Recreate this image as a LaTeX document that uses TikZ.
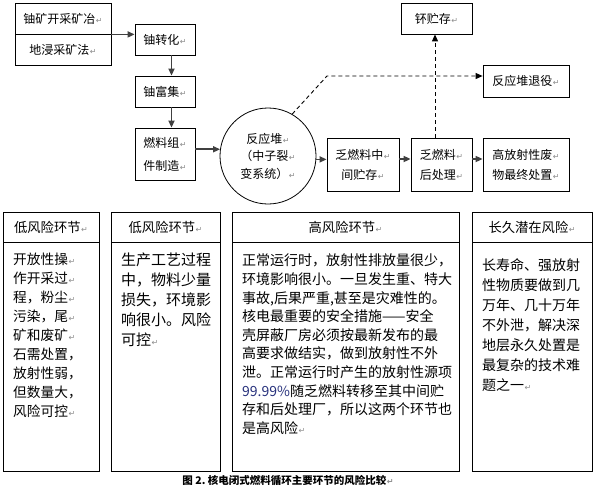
\documentclass[tikz,border=0pt]{standalone}
\usepackage{fontspec}
\setmainfont{Noto Sans CJK SC}
\newfontfamily\markfont{DejaVu Sans}
\usepackage{tikz}
\usetikzlibrary{positioning,arrows.meta,calc}
\definecolor{cLine}{RGB}{64,64,64}
\definecolor{cMark}{RGB}{140,140,140}
\definecolor{cNum}{RGB}{40,50,125}
\newcommand{\retmk}{{\kern0.5pt\markfont\fontsize{8}{8}\selectfont\textcolor{cMark}{↵}}}

\begin{document}
\begin{tikzpicture}[x=1pt,y=-1pt,
  box/.style={draw,line width=0.8pt,inner sep=0pt,align=center,font=\fontsize{12}{20}\selectfont},
  panel/.style={draw,line width=0.8pt,inner sep=0pt,align=center},
  bodytxt/.style={anchor=north west,inner sep=0pt,align=left},
  arr/.style={cLine,line width=1.6pt,-{Triangle[length=7pt,width=6pt]}},
  darr/.style={black,line width=0.9pt,dash pattern=on 4pt off 3pt,-{Triangle[length=7pt,width=6pt]}}]
 \useasboundingbox[fill=white] (0,0) rectangle (596,493);
 % ---- front end ----
 \node[box,minimum width=96pt,minimum height=31pt] (mineA) at (63,18.5) {铀矿开采矿冶\retmk};
 \node[box,minimum width=96pt,minimum height=31pt,below=0pt of mineA] (mineB) {地浸采矿法\retmk};
 \node[box,minimum width=60pt,minimum height=31pt] (conv) at (165,39.5) {铀转化\retmk};
 \node[box,minimum width=60pt,minimum height=31pt] (enrich) at (165,91.5) {铀富集\retmk};
 \node[box,minimum width=60pt,minimum height=52pt,font=\fontsize{12}{23}\selectfont] (fab) at (165,154) {燃料组\retmk\\件制造\retmk};
 \node[draw,circle,line width=0.8pt,minimum size=96pt,inner sep=0pt,align=center,
       font=\fontsize{12}{17.5}\selectfont] (reactor) at (268,156) {反应堆\retmk\\（中子裂\retmk\\变系统）\retmk};
 % ---- back end ----
 \node[box,minimum width=72pt,minimum height=53pt] (interim) at (363,164.5) {乏燃料中\retmk\\间贮存\retmk};
 \node[box,minimum width=61pt,minimum height=53pt] (reproc) at (441.5,164.5) {乏燃料\retmk\\后处理\retmk};
 \node[box,minimum width=86pt,minimum height=53pt] (waste) at (526,164.5) {高放射性废\retmk\\物最终处置\retmk};
 \node[box,minimum width=71pt,minimum height=31pt] (pu) at (436.5,18.5) {钚贮存\retmk};
 \node[box,minimum width=86pt,minimum height=32pt] (decom) at (526,81) {反应堆退役\retmk};
 \coordinate (bend) at (327,76);
 % connectors
 \draw[arr] (mineA.south east) -- (mineA.south east -| conv.west);
 \draw[arr] ([xshift=6.5pt]conv.south) -- ([xshift=6.5pt]enrich.north);
 \draw[arr] ([xshift=6.5pt]enrich.south) -- ([xshift=6.5pt]fab.north);
 \draw[arr] (fab.east |- reactor.172) -- (reactor.172);
 \draw[arr] (reactor.-4) -- (reactor.-4 -| interim.west);
 \draw[arr] ([yshift=5.5pt]interim.east) -- ([yshift=5.5pt]reproc.west);
 \draw[arr] ([yshift=5.5pt]reproc.east) -- ([yshift=5.5pt]waste.west);
 \draw[darr] ([xshift=-6.5pt]reproc.north) -- ([xshift=-6.5pt]reproc.north |- pu.south);
 \draw[darr] (reactor.60) -- (bend) -- (bend -| decom.west);
 % ---- risk panels ----
 \node[panel,minimum width=96pt,minimum height=30pt,font=\fontsize{13.3}{16}\selectfont] (hdA) at (51,227) {低风险环节\retmk};
 \node[panel,minimum width=96pt,minimum height=229pt,below=0pt of hdA] (bdA) {};
 \node[panel,minimum width=109pt,minimum height=30pt,font=\fontsize{13.3}{16}\selectfont] (hdB) at (165.5,227) {低风险环节\retmk};
 \node[panel,minimum width=109pt,minimum height=229pt,below=0pt of hdB] (bdB) {};
 \node[panel,minimum width=227pt,minimum height=30pt,font=\fontsize{13.3}{16}\selectfont] (hdC) at (345.5,227) {高风险环节\retmk};
 \node[panel,minimum width=227pt,minimum height=229pt,below=0pt of hdC] (bdC) {};
 \node[panel,minimum width=120pt,minimum height=30pt,font=\fontsize{13.3}{16}\selectfont] (hdD) at (532,227) {长久潜在风险\retmk};
 \node[panel,minimum width=120pt,minimum height=229pt,below=0pt of hdD] (bdD) {};
 % panel texts
 \node[bodytxt,font=\fontsize{13.7}{19}\selectfont] (txA) at (13,253)
   {开放性操\retmk\\作开采过\retmk\\程，粉尘\retmk\\污染，尾\retmk\\矿和废矿\retmk\\石需处置，\\放射性弱，\\但数量大，\\风险可控\retmk};
 \node[bodytxt,font=\fontsize{15}{20}\selectfont] (txB) at (121,252.5)
   {生产工艺过程\\中，物料少量\\损失，环境影\\响很小。风险\\可控\retmk};
 \node[bodytxt,font=\fontsize{14}{18.6}\selectfont] (txC) at (242,254)
   {正常运行时，放射性排放量很少，\\环境影响很小。一旦发生重、特大\\事故,后果严重,甚至是灾难性的。\\核电最重要的安全措施——安全\\壳屏蔽厂房必须按最新发布的最\\高要求做结实，做到放射性不外\\泄。正常运行时产生的放射性源项\\{\color{cNum}99.99\%}随乏燃料转移至其中间贮\\存和后处理厂，所以这两个环节也\\是高风险\retmk};
 \node[bodytxt,font=\fontsize{14}{20}\selectfont] (txD) at (482,258)
   {长寿命、强放射\\性物质要做到几\\万年、几十万年\\不外泄，解决深\\地层永久处置是\\最复杂的技术难\\题之一\retmk};
 % caption
 \node[inner sep=0pt,font=\bfseries\fontsize{10.5}{12}\selectfont] (cap) at (288,481) {图 2.\ 核电闭式燃料循环主要环节的风险比较\retmk};
\end{tikzpicture}
\end{document}
